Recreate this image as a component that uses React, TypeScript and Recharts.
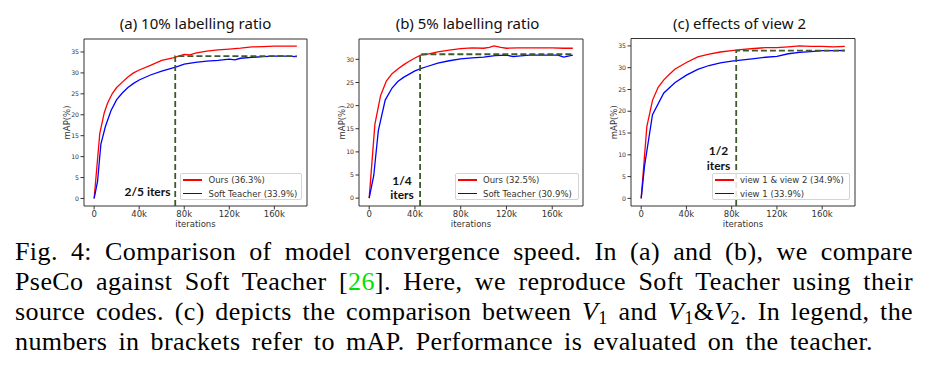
import React from 'react';
import { LineChart, Line, XAxis, YAxis, ReferenceArea } from 'recharts';

// ---------- (a) 10% labelling ratio ----------
const itersAOurs = [0, 5, 9, 12, 16, 20, 25, 30, 35, 40, 50, 60, 70, 75, 80, 85, 90, 100, 110, 120, 130, 140, 150, 160, 170, 180];
const mapAOurs = [0, 15.5, 20.5, 22.8, 25, 26.5, 27.8, 29, 30, 30.7, 31.8, 33, 33.6, 34, 34.4, 34.3, 34.7, 35.2, 35.5, 35.7, 35.9, 36.2, 36.3, 36.4, 36.4, 36.4];
const itersASoft = [0, 3, 6, 10, 15, 20, 25, 30, 35, 40, 50, 60, 70, 75, 80, 90, 100, 110, 120, 125, 130, 140, 150, 160, 170, 180];
const mapASoft = [0, 4, 13, 17.2, 21, 23.6, 25.2, 26.5, 27.5, 28.3, 29.5, 30.4, 31.2, 31.6, 32.1, 32.5, 32.8, 33.0, 33.3, 33.1, 33.5, 33.7, 33.9, 34.0, 34.0, 33.9];
const dashAIters = [72, 72, 180];
const dashAMap = [-1.8, 34, 34];

// ---------- (b) 5% labelling ratio ----------
const itersBOurs = [0, 5, 10, 15, 20, 25, 30, 35, 40, 45, 50, 60, 70, 80, 90, 100, 105, 109, 115, 120, 130, 140, 150, 160, 170, 178];
const mapBOurs = [0, 16, 22.2, 25.3, 26.9, 27.9, 28.8, 29.6, 30.3, 30.9, 31.1, 31.6, 32.0, 32.3, 32.5, 32.4, 32.6, 32.9, 32.6, 32.4, 32.5, 32.5, 32.5, 32.5, 32.4, 32.4];
const itersBSoft = [0, 4, 8, 14, 20, 25, 30, 35, 40, 45, 50, 60, 70, 80, 90, 100, 110, 120, 126, 130, 140, 150, 160, 165, 170, 178];
const mapBSoft = [0, 4.9, 14.6, 21.2, 23.8, 25.2, 26.1, 26.8, 27.5, 28.0, 28.4, 29.2, 29.7, 30.1, 30.3, 30.5, 30.8, 30.9, 30.6, 30.7, 30.9, 30.9, 30.9, 30.9, 30.5, 30.9];
const dashBIters = [44.5, 44.5, 178];
const dashBMap = [-1.7, 31.1, 31.1];

// ---------- (c) effects of view 2 ----------
const itersCBoth = [0, 5, 10, 15, 20, 25, 30, 40, 50, 60, 70, 80, 90, 100, 110, 120, 130, 140, 150, 160, 170, 180];
const mapCBoth = [0, 16.5, 22.5, 25.5, 27.2, 28.5, 29.7, 31.2, 32.5, 33.1, 33.6, 33.9, 34.2, 34.4, 34.6, 34.6, 34.8, 35.0, 34.9, 34.9, 34.8, 34.9];
const itersCView1 = [0, 3, 10, 20, 30, 40, 50, 60, 70, 80, 90, 100, 110, 120, 130, 140, 150, 160, 170, 180];
const mapCView1 = [0, 7.5, 19.2, 24.2, 26.6, 28.3, 29.6, 30.5, 31.1, 31.5, 31.8, 32.1, 32.4, 32.6, 33.2, 33.5, 33.7, 33.9, 33.9, 33.95];
const dashCIters = [84, 84, 180];
const dashCMap = [-1.75, 33.9, 33.9];

const xTicks = [0, 40, 80, 120, 160];
const yTicks35 = [0, 5, 10, 15, 20, 25, 30, 35];
const yTicks30 = [0, 5, 10, 15, 20, 25, 30];

const RED = '#ff0000';
const BLUE = '#0000ff';
const DASH = '#3d5a2c';
const MPL = "'DejaVu Sans', sans-serif";
const TITLE_FONT = "'Noto Sans', 'Open Sans', sans-serif";
const NOTE_FONT = "Lato, 'Noto Sans', sans-serif";

const toPoints = (xs: number[], ys: number[]) => xs.map((x, i) => ({ x, y: ys[i] }));

type Series = { name: string; color: string; iters: number[]; values: number[] };
type PanelProps = {
  plot: { x: number; y: number; w: number; h: number };
  xDomain: [number, number];
  yDomain: [number, number];
  yTicks: number[];
  series: Series[];
  dashIters: number[];
  dashValues: number[];
  legend: { x: number; y: number; w: number; h: number };
  title: string;
  titleX: number;
  note: string[];
  noteX: number;
  noteY: number;
};

function Panel(p: PanelProps) {
  const cLeft = p.plot.x - 50;
  const width = p.plot.w + 60;
  const height = p.plot.y + p.plot.h + 26;
  return (
    <>
      <div style={{ position: 'absolute', left: cLeft, top: 0 }}>
        <LineChart
          width={width}
          height={height}
          margin={{ top: p.plot.y, left: 20, right: 10, bottom: 0 }}
        >
          <ReferenceArea
            x1={p.xDomain[0]}
            x2={p.xDomain[1]}
            y1={p.yDomain[0]}
            y2={p.yDomain[1]}
            fill="none"
            stroke="#333"
            strokeWidth={1}
            ifOverflow="visible"
          />
          <XAxis
            type="number"
            dataKey="x"
            domain={p.xDomain}
            ticks={xTicks}
            allowDataOverflow
            height={26}
            axisLine={false}
            tickSize={3.5}
            tickMargin={1}
            tickLine={{ stroke: '#333' }}
            tick={{ fontSize: 8.5, fill: '#333', fontFamily: MPL }}
            tickFormatter={(v: number) => (v === 0 ? '0' : `${v}k`)}
            label={{
              content: ({ viewBox }: any) => (
                <text
                  x={viewBox.x + viewBox.width / 2}
                  y={viewBox.y + 17.5}
                  textAnchor="middle"
                  dominantBaseline="central"
                  fontSize={8.5}
                  fill="#333"
                  fontFamily={MPL}
                >
                  iterations
                </text>
              ),
            }}
          />
          <YAxis
            type="number"
            dataKey="y"
            domain={p.yDomain}
            ticks={p.yTicks}
            allowDataOverflow
            width={30}
            axisLine={false}
            tickSize={3.5}
            tickMargin={1.5}
            tickLine={{ stroke: '#333' }}
            tick={{ fontSize: 6.2, fill: '#333', fontFamily: MPL }}
            label={{
              content: ({ viewBox }: any) => {
                const cx = viewBox.x + viewBox.width - 17.5;
                const cy = viewBox.y + viewBox.height / 2;
                return (
                  <text
                    x={cx}
                    y={cy}
                    transform={`rotate(-90 ${cx} ${cy})`}
                    textAnchor="middle"
                    dominantBaseline="central"
                    fontSize={8.5}
                    fill="#333"
                    fontFamily={MPL}
                  >
                    mAP(%)
                  </text>
                );
              },
            }}
          />
          {p.series.map((s) => (
            <Line
              key={s.name}
              data={toPoints(s.iters, s.values)}
              dataKey="y"
              name={s.name}
              type="linear"
              stroke={s.color}
              strokeWidth={1.3}
              dot={false}
              isAnimationActive={false}
            />
          ))}
          <Line
            data={toPoints(p.dashIters, p.dashValues)}
            dataKey="y"
            name="dash"
            type="linear"
            stroke={DASH}
            strokeWidth={1.8}
            strokeDasharray="6 3"
            dot={false}
            legendType="none"
            isAnimationActive={false}
          />
        </LineChart>
      </div>
      {/* title */}
      <div
        style={{
          position: 'absolute',
          left: p.titleX - 120,
          width: 240,
          top: 12,
          height: 22,
          lineHeight: '22px',
          textAlign: 'center',
          fontFamily: TITLE_FONT,
          fontSize: 15,
          color: '#111',
          whiteSpace: 'nowrap',
        }}
      >
        {p.title}
      </div>
      {/* annotation */}
      <div
        style={{
          position: 'absolute',
          left: p.noteX - 40,
          width: 80,
          top: p.noteY,
          textAlign: 'center',
          fontFamily: NOTE_FONT,
          fontWeight: 700,
          fontSize: 12,
          lineHeight: '14.5px',
          color: '#111',
        }}
      >
        {p.note.map((t, i) => (
          <React.Fragment key={t}>
            {i > 0 && <br />}
            {t}
          </React.Fragment>
        ))}
      </div>
      {/* legend */}
      <div
        style={{
          position: 'absolute',
          left: p.legend.x,
          top: p.legend.y,
          width: p.legend.w,
          height: p.legend.h,
          boxSizing: 'border-box',
          border: '1px solid #d4d4d4',
          borderRadius: 2,
          background: 'rgba(255,255,255,0.85)',
        }}
      >
        {p.series.map((s, i) => (
          <div
            key={s.name}
            style={{
              position: 'absolute',
              left: 0,
              top: 6.6 + i * 13.4 - 6,
              height: 12,
              width: p.legend.w,
              display: 'flex',
              alignItems: 'center',
            }}
          >
            <div style={{ marginLeft: 2, width: 19, height: 1.4, background: s.color }} />
            <div
              style={{
                marginLeft: 6.5,
                fontFamily: MPL,
                fontSize: 8.5,
                color: '#333',
                whiteSpace: 'nowrap',
              }}
            >
              {s.name}
            </div>
          </div>
        ))}
      </div>
    </>
  );
}

const lineStyle = (w: number): React.CSSProperties => ({
  width: w,
  height: 30,
  lineHeight: '30px',
  textAlign: 'justify',
  textAlignLast: 'justify' as any,
  whiteSpace: 'nowrap',
});

const sub: React.CSSProperties = { fontSize: '0.7em', position: 'relative', top: '0.2em' };

export default function App() {
  return (
    <div
      style={{
        position: 'absolute',
        left: 0,
        top: 0,
        width: 931,
        height: 375,
        background: '#fff',
        overflow: 'hidden',
      }}
    >
      <Panel
        plot={{ x: 84, y: 39, w: 223, h: 167 }}
        xDomain={[-9, 189]}
        yDomain={[-1.8, 38.1]}
        yTicks={yTicks35}
        series={[
          { name: 'Ours (36.3%)', color: RED, iters: itersAOurs, values: mapAOurs },
          { name: 'Soft Teacher (33.9%)', color: BLUE, iters: itersASoft, values: mapASoft },
        ]}
        dashIters={dashAIters}
        dashValues={dashAMap}
        legend={{ x: 180, y: 172.5, w: 122, h: 27 }}
        title="(a) 10% labelling ratio"
        titleX={195.5}
        note={['2/5 iters']}
        noteX={147.5}
        noteY={184.5}
      />
      <Panel
        plot={{ x: 359, y: 39, w: 224, h: 167 }}
        xDomain={[-8.9, 186.9]}
        yDomain={[-1.7, 34.4]}
        yTicks={yTicks30}
        series={[
          { name: 'Ours (32.5%)', color: RED, iters: itersBOurs, values: mapBOurs },
          { name: 'Soft Teacher (30.9%)', color: BLUE, iters: itersBSoft, values: mapBSoft },
        ]}
        dashIters={dashBIters}
        dashValues={dashBMap}
        legend={{ x: 454.5, y: 172.5, w: 124, h: 27.5 }}
        title="(b) 5% labelling ratio"
        titleX={467.5}
        note={['1/4', 'iters']}
        noteX={402}
        noteY={173.5}
      />
      <Panel
        plot={{ x: 631, y: 38.5, w: 224, h: 167.5 }}
        xDomain={[-9, 189]}
        yDomain={[-1.75, 36.7]}
        yTicks={yTicks35}
        series={[
          { name: 'view 1 & view 2 (34.9%)', color: RED, iters: itersCBoth, values: mapCBoth },
          { name: 'view 1 (33.9%)', color: BLUE, iters: itersCView1, values: mapCView1 },
        ]}
        dashIters={dashCIters}
        dashValues={dashCMap}
        legend={{ x: 711.5, y: 172.5, w: 138, h: 27.5 }}
        title="(c) effects of view 2"
        titleX={739.5}
        note={['1/2', 'iters']}
        noteX={718.5}
        noteY={144}
      />
      <div
        style={{
          position: 'absolute',
          left: 15,
          top: 237,
          fontFamily: "'Liberation Serif', serif",
          fontSize: 26,
          letterSpacing: 0.4,
          color: '#000',
        }}
      >
        <div style={lineStyle(898)}>
          Fig. 4: Comparison of model convergence speed. In (a) and (b), we compare
        </div>
        <div style={lineStyle(898)}>
          PseCo against Soft Teacher [<span style={{ color: '#00e000' }}>26</span>]. Here, we reproduce Soft Teacher using their
        </div>
        <div style={lineStyle(898)}>
          source codes. (c) depicts the comparison between <i>V</i>
          <span style={sub}>1</span> and <i>V</i>
          <span style={sub}>1</span>&amp;<i>V</i>
          <span style={sub}>2</span>. In legend, the
        </div>
        <div style={lineStyle(858)}>
          numbers in brackets refer to mAP. Performance is evaluated on the teacher.
        </div>
      </div>
    </div>
  );
}
